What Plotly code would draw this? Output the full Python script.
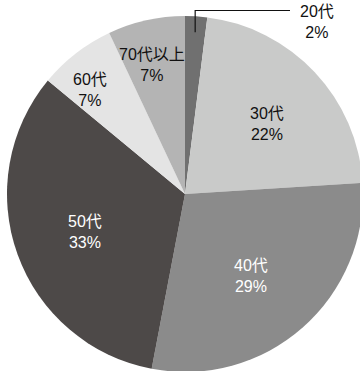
import math
import plotly.graph_objects as go

labels = ["20代", "30代", "40代", "50代", "60代", "70代以上"]
values = [2, 22, 29, 33, 7, 7]
colors = ["#707070", "#c9cac9", "#8b8b8b", "#4d4948", "#e4e4e4", "#b4b4b4"]
text_colors = ["#111111", "#111111", "#ffffff", "#ffffff", "#111111", "#111111"]
# label placement relative to the pie centre: (angle offset from slice mid in deg, radius fraction)
label_offsets = [(0, 0), (3, 0.605), (2.5, 0.59), (-1, 0.60), (-4.5, 0.79), (-1.5, 0.75)]

W, H = 370, 388
CX, CY, R = 185, 194, 178  # pie centre / radius in pixels

font_family = "Liberation Sans, Arial, Noto Sans CJK JP, sans-serif"

fig = go.Figure(go.Pie(
    labels=labels,
    values=values,
    textinfo="none",
    sort=False,
    direction="clockwise",
    rotation=0,
    marker=dict(colors=colors, line=dict(width=0)),
    domain=dict(x=[(CX - R) / W, (CX + R) / W], y=[1 - (CY + R) / H, 1 - (CY - R) / H]),
    showlegend=False,
    hoverinfo="skip",
))

px = lambda x: x / W
py = lambda y: 1 - y / H

total = sum(values)
cum = 0
for i, (lab, v) in enumerate(zip(labels, values)):
    mid_deg = (cum + v / 2) / total * 360
    cum += v
    if i == 0:
        continue
    da, rf = label_offsets[i]
    a = math.radians(mid_deg + da)
    x = CX + R * rf * math.sin(a)
    y = CY - R * rf * math.cos(a)
    fig.add_annotation(x=px(x), y=py(y), xref="paper", yref="paper",
                       text=f"{lab}<br>{v}%", showarrow=False,
                       font=dict(size=16, color=text_colors[i], family=font_family),
                       xanchor="center", yanchor="middle")

# leader line + label for the small 20代 slice
mid = values[0] / 2 / total * 2 * math.pi
sx = CX + R * 0.91 * math.sin(mid)
sy = CY - R * 0.91 * math.cos(mid)
ty = 10.5
ex = 290
fig.add_shape(type="path", xref="paper", yref="paper",
              path=f"M {px(sx)},{py(sy)} L {px(sx)},{py(ty)} L {px(ex)},{py(ty)}",
              line=dict(color="#111111", width=1.2))
fig.add_annotation(x=px(317), y=py(22), xref="paper", yref="paper",
                   text=f"{labels[0]}<br>{values[0]}%", showarrow=False,
                   font=dict(size=16, color=text_colors[0], family=font_family),
                   xanchor="center", yanchor="middle")

fig.update_layout(width=W, height=H, margin=dict(l=0, r=0, t=0, b=0),
                  paper_bgcolor="white", plot_bgcolor="white")
fig.write_html("out.html", config={"displayModeBar": False},
               post_script="document.body.style.overflow='hidden';document.documentElement.style.overflow='hidden';")
